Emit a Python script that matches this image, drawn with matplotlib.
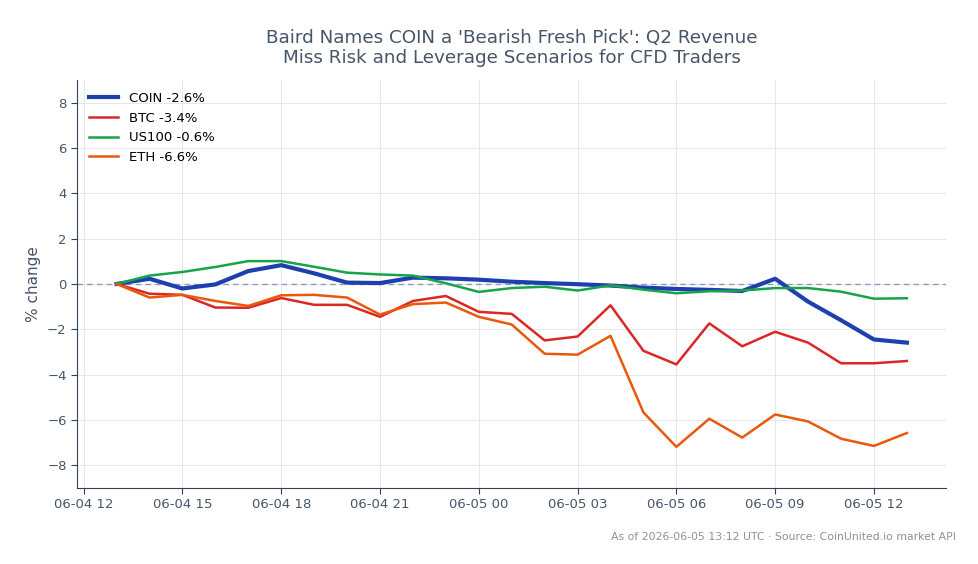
import matplotlib
matplotlib.use("Agg")
from matplotlib import pyplot as plt
import matplotlib.dates as mdates
import pandas as pd

times = pd.date_range("2026-06-04 13:00", "2026-06-05 13:00", freq="h")

coin = [0.0, 0.23, -0.2, -0.02, 0.57, 0.83, 0.47, 0.06, 0.04, 0.28, 0.25, 0.19,
        0.1, 0.04, -0.01, -0.07, -0.16, -0.22, -0.26, -0.31, 0.23, -0.78, -1.6, -2.45, -2.59]
btc = [0.0, -0.43, -0.48, -1.04, -1.05, -0.62, -0.92, -0.92, -1.45, -0.75, -0.53, -1.23,
       -1.32, -2.49, -2.32, -0.94, -2.95, -3.55, -1.74, -2.75, -2.11, -2.59, -3.5, -3.5, -3.4]
us100 = [0.0, 0.37, 0.53, 0.75, 1.01, 1.01, 0.76, 0.5, 0.42, 0.37, 0.03, -0.35, -0.18,
         -0.12, -0.29, -0.06, -0.25, -0.41, -0.32, -0.29, -0.18, -0.18, -0.34, -0.65, -0.63]
eth = [0.0, -0.6, -0.48, -0.75, -0.97, -0.5, -0.48, -0.6, -1.35, -0.89, -0.82, -1.45,
       -1.79, -3.08, -3.12, -2.29, -5.67, -7.19, -5.95, -6.78, -5.76, -6.07, -6.83, -7.15, -6.58]

series = [
    ("COIN -2.6%", coin, "#1e40af", 3.0),
    ("BTC -3.4%", btc, "#dc2626", 1.8),
    ("US100 -0.6%", us100, "#16a34a", 1.8),
    ("ETH -6.6%", eth, "#ea580c", 1.8),
]

slate = "#475569"

fig = plt.figure(figsize=(9.79, 5.64), dpi=100)
ax = fig.add_axes([0.0787, 0.135, 0.888, 0.723])

for label, vals, color, lw in series:
    ax.plot(times, vals, color=color, lw=lw, label=label)

# zero reference line
ax.axhline(0, color="#8a9bb8", lw=1, ls=(0, (4, 3)), zorder=1.5)

ax.set_ylim(-9, 9)
ax.set_yticks(range(-8, 9, 2))
ax.xaxis.set_major_locator(mdates.HourLocator(byhour=range(0, 24, 3)))
ax.xaxis.set_major_formatter(mdates.DateFormatter("%m-%d %H"))

ax.grid(True, color="#e5e7eb", lw=0.7)
ax.set_axisbelow(True)
for s in ["top", "right"]:
    ax.spines[s].set_visible(False)
for s in ["left", "bottom"]:
    ax.spines[s].set_color("#334155")
ax.tick_params(axis="both", colors="#334155", labelcolor=slate, labelsize=9.5, length=4)

ax.set_ylabel("% change", color=slate, fontsize=11)
ax.set_title("Baird Names COIN a 'Bearish Fresh Pick': Q2 Revenue\nMiss Risk and Leverage Scenarios for CFD Traders",
             color=slate, fontsize=13.2, pad=12)

ax.legend(loc="upper left", frameon=False, fontsize=9.5, handlelength=2.2)

fig.text(0.976, 0.047, "As of 2026-06-05 13:12 UTC \u00b7 Source: CoinUnited.io market API",
         ha="right", va="center", color="#8b929c", fontsize=7.85)

fig.savefig("out.png", dpi=100)
